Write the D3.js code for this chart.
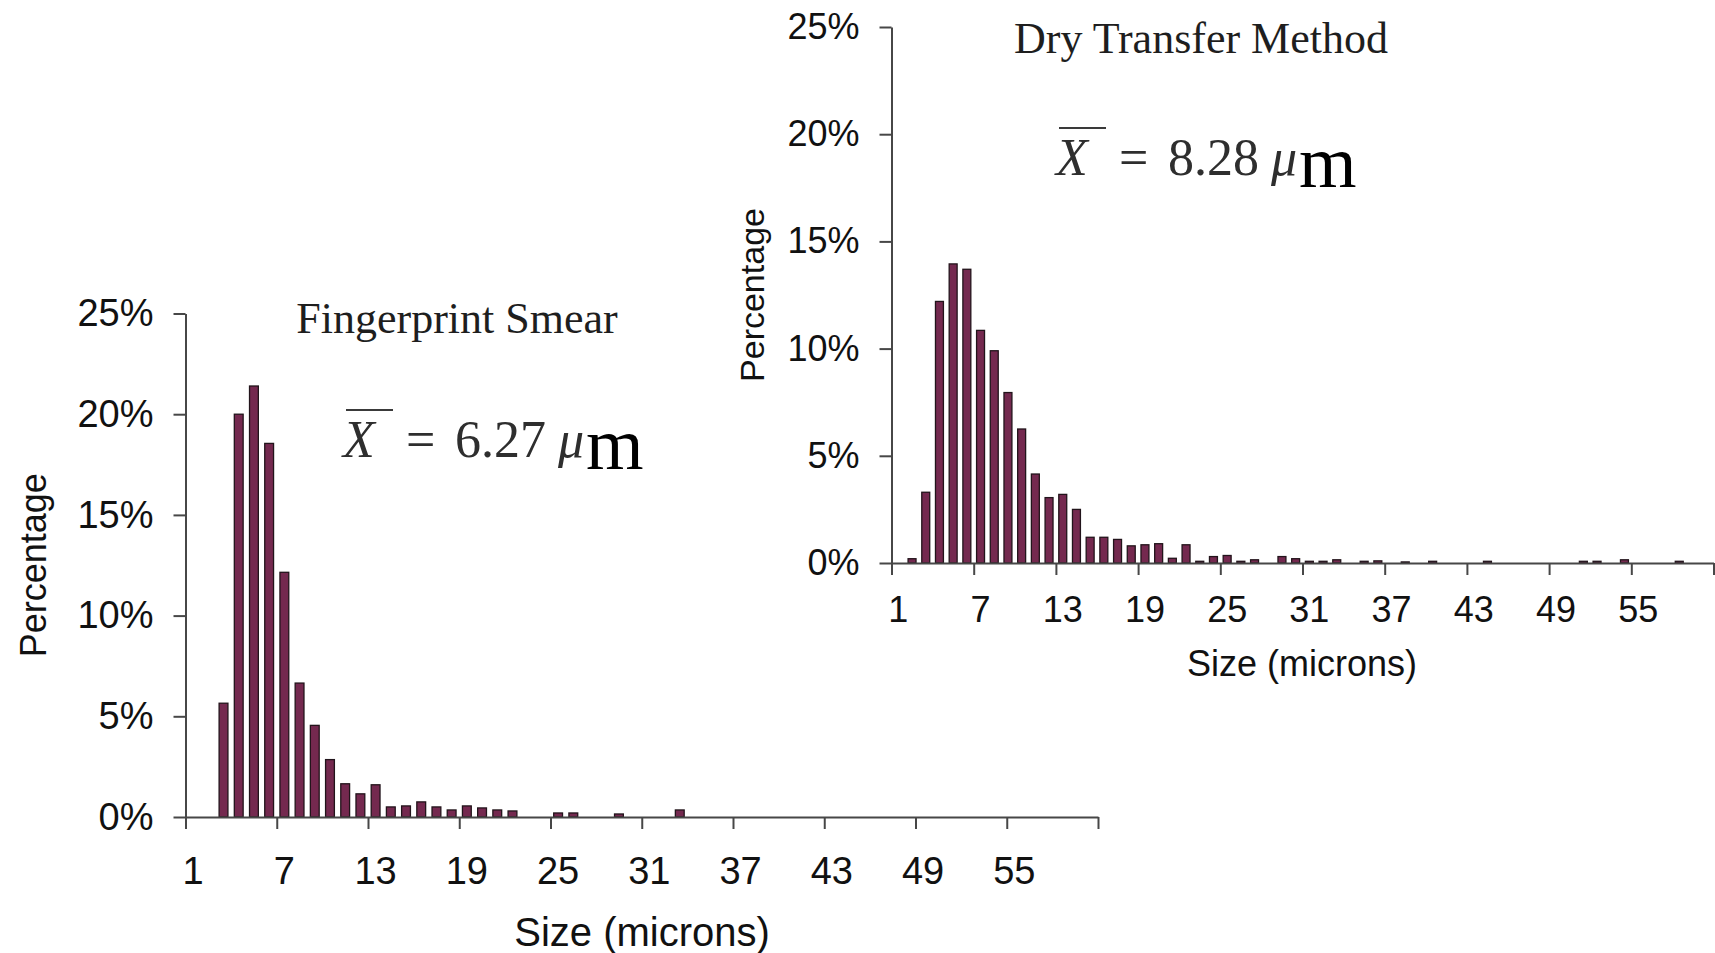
<!DOCTYPE html>
<html><head><meta charset="utf-8">
<script src="https://cdn.jsdelivr.net/npm/d3@7/dist/d3.min.js"></script>
<style>body{margin:0;background:#fff;} svg{display:block;background:#fff;}</style>
</head><body><svg id="c" width="1715" height="953"></svg>
<script>
// ---- data ----
const categories = d3.range(1, 61); // particle size bins, microns
const smearValues = [0, 0, 5.65, 20.0, 21.4, 18.55, 12.15, 6.65, 4.55, 2.85,
  1.65, 1.15, 1.6, 0.5, 0.55, 0.75, 0.5, 0.35, 0.55, 0.45,
  0.35, 0.3, 0, 0, 0.2, 0.2, 0, 0, 0.15, 0,
  0, 0, 0.35, 0, 0, 0, 0, 0, 0, 0,
  0, 0, 0, 0, 0, 0, 0, 0, 0, 0,
  0, 0, 0, 0, 0, 0, 0, 0, 0, 0];
const dryValues = [0, 0.2, 3.3, 12.2, 13.95, 13.7, 10.85, 9.9, 7.95, 6.25,
  4.15, 3.05, 3.2, 2.5, 1.2, 1.2, 1.1, 0.8, 0.85, 0.9,
  0.22, 0.85, 0.08, 0.3, 0.35, 0.08, 0.15, 0, 0.3, 0.2,
  0.08, 0.08, 0.15, 0, 0.08, 0.1, 0, 0.05, 0, 0.08,
  0, 0, 0, 0.08, 0, 0, 0, 0, 0, 0,
  0.08, 0.08, 0, 0.15, 0, 0, 0, 0.08, 0, 0];
const xTickLabels = [1, 7, 13, 19, 25, 31, 37, 43, 49, 55];
const xTickBoundaries = d3.range(0, 61, 6);
const yTicks = [0, 5, 10, 15, 20, 25];
const titles = ["Fingerprint Smear", "Dry Transfer Method"];
const means = ["6.27", "8.28"];
const xAxisTitle = "Size (microns)";
const yAxisTitle = "Percentage";

// ---- layout ----
const svg = d3.select("#c");
const panels = [
  {values: smearValues, title: titles[0], mean: means[0],
   x0: 185.5, x1: 1098, yTop: 313.5, yBase: 817, labelPad: 40, tickFont: 38,
   axisTitleFont: 40, yTitleFont: 36,
   yTitleX: 33, titleX: 457, titleY: 333, fx: 343, fy: 457, axisTitleX: 642, axisTitleY: 946},
  {values: dryValues, title: titles[1], mean: means[1],
   x0: 891.5, x1: 1713.5, yTop: 27, yBase: 563, labelPad: 33, tickFont: 36,
   axisTitleFont: 36, yTitleFont: 34,
   yTitleX: 752, titleX: 1201, titleY: 53, fx: 1056, fy: 175, axisTitleX: 1302, axisTitleY: 676}
];

const BAR_FILL = "#74294f", BAR_STROKE = "#22141b", AXIS = "#474747", TXT = "#111";
const SANS = "Liberation Sans, Arial, sans-serif";
const SERIF = "Liberation Serif, Times New Roman, serif";

panels.forEach(p => {
  const g = svg.append("g");
  const x = d3.scaleBand().domain(categories).range([p.x0, p.x1])
    .paddingInner(0.42).paddingOuter(0.21);
  const xb = d3.scaleLinear().domain([0, 60]).range([p.x0, p.x1]);
  const y = d3.scaleLinear().domain([0, 25]).range([p.yBase, p.yTop]);

  // bars
  g.append("g").selectAll("rect")
    .data(categories.map((c, i) => ({c, v: p.values[i]})).filter(d => d.v > 0))
    .join("rect")
    .attr("x", d => x(d.c)).attr("width", x.bandwidth())
    .attr("y", d => y(d.v)).attr("height", d => y(0) - y(d.v))
    .attr("fill", BAR_FILL).attr("stroke", BAR_STROKE).attr("stroke-width", 1.3);

  // y axis
  const ya = g.append("g").attr("transform", `translate(${p.x0},0)`)
    .call(d3.axisLeft(y).tickValues(yTicks).tickFormat(d => d + "%")
      .tickSize(12).tickSizeOuter(0).tickPadding(20));
  ya.selectAll("path,line").attr("stroke", AXIS).attr("stroke-width", 2);
  ya.selectAll("text").attr("font-family", SANS)
    .attr("font-size", p.tickFont).attr("fill", TXT);

  // x axis line + boundary ticks
  const xa = g.append("g").attr("transform", `translate(0,${p.yBase})`)
    .call(d3.axisBottom(xb).tickValues(xTickBoundaries).tickFormat("")
      .tickSize(12).tickSizeOuter(0));
  xa.selectAll("path,line").attr("stroke", AXIS).attr("stroke-width", 2);

  // x labels
  const xl = g.append("g").attr("transform", `translate(0,${p.yBase})`)
    .call(d3.axisBottom(x).tickValues(xTickLabels).tickSize(0).tickPadding(p.labelPad));
  xl.select(".domain").remove();
  xl.selectAll("text").attr("font-family", SANS)
    .attr("font-size", p.tickFont).attr("fill", TXT);

  // axis titles
  g.append("text").attr("x", p.axisTitleX).attr("y", p.axisTitleY)
    .attr("text-anchor", "middle").attr("font-family", SANS)
    .attr("font-size", p.axisTitleFont).attr("fill", TXT).text(xAxisTitle);
  g.append("text")
    .attr("transform", `translate(${p.yTitleX},${(p.yTop + p.yBase) / 2}) rotate(-90)`)
    .attr("text-anchor", "middle").attr("dy", "0.35em")
    .attr("font-family", SANS)
    .attr("font-size", p.yTitleFont).attr("fill", TXT).text(yAxisTitle);

  // chart title
  g.append("text").attr("x", p.titleX).attr("y", p.titleY).attr("text-anchor", "middle")
    .attr("font-family", SERIF)
    .attr("font-size", 44).attr("fill", "#1e1e1e").text(p.title);

  // mean formula
  const f = g.append("text").attr("x", p.fx).attr("y", p.fy)
    .attr("font-family", SERIF)
    .attr("font-size", 52).attr("fill", "#2e2e2e");
  f.append("tspan").attr("x", p.fx).attr("font-style", "italic").text("X");
  f.append("tspan").attr("x", p.fx + 63).text("=");
  f.append("tspan").attr("x", p.fx + 112).text(p.mean);
  f.append("tspan").attr("x", p.fx + 215).attr("font-style", "italic").text("\u03bc");
  f.append("tspan").attr("x", p.fx + 243).attr("dy", 12).attr("font-size", 74)
    .attr("fill", "#000").text("m");
  g.append("line").attr("x1", p.fx + 3).attr("x2", p.fx + 50)
    .attr("y1", p.fy - 47).attr("y2", p.fy - 47)
    .attr("stroke", "#3a3a3a").attr("stroke-width", 2.2);
});
</script></body></html>
